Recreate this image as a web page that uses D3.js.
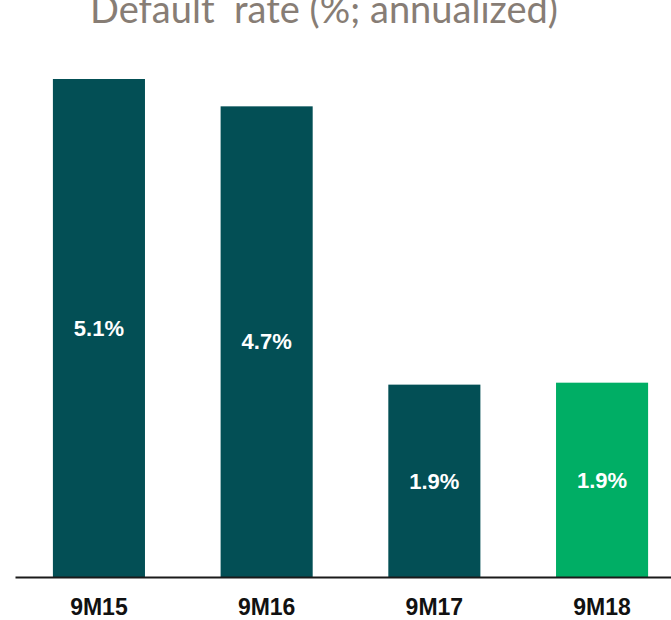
<!DOCTYPE html>
<html>
<head>
<meta charset="utf-8">
<script src="https://cdn.jsdelivr.net/npm/d3@7"></script>
<style>
  body { margin: 0; background: #fff; }
  svg { display: block; }
</style>
</head>
<body>
<script>
// periods on the x axis
const periods = ['9M15', '9M16', '9M17', '9M18'];
// bar heights (% annualized)
const rates = [5.1, 4.82, 1.97, 1.99];
// labels printed inside the bars
const rateLabels = ['5.1%', '4.7%', '1.9%', '1.9%'];
// last period is highlighted
const barColors = ['#034f55', '#034f55', '#034f55', '#00ae65'];

const width = 671;
const height = 620;
const baseline = 577;

const svg = d3
  .select('body')
  .append('svg')
  .attr('width', width)
  .attr('height', height);

// set the ranges
const x = d3
  .scaleBand()
  .domain(periods)
  .range([15, 686])
  .paddingInner(0.451)
  .paddingOuter(0.226);

const y = d3
  .scaleLinear()
  .domain([0, 5.1])
  .range([baseline, 79]);

// title, partly cut by the top edge as in the original
svg
  .append('text')
  .attr('x', 90)
  .attr('y', 23)
  .style('white-space', 'pre')
  .attr('font-family', 'Lato, sans-serif')
  .attr('font-weight', 400)
  .attr('font-size', 38)
  .attr('fill', '#877d75')
  .attr('textLength', 468)
  .attr('lengthAdjust', 'spacingAndGlyphs')
  .text('Default  rate (%; annualized)');

// bars
svg
  .selectAll('rect.bar')
  .data(periods)
  .enter()
  .append('rect')
  .attr('class', 'bar')
  .attr('x', d => x(d))
  .attr('width', x.bandwidth())
  .attr('y', (d, i) => y(rates[i]))
  .attr('height', (d, i) => baseline - y(rates[i]))
  .attr('fill', (d, i) => barColors[i]);

// value labels, centred in each bar
svg
  .selectAll('text.value')
  .data(periods)
  .enter()
  .append('text')
  .attr('class', 'value')
  .attr('x', d => x(d) + x.bandwidth() / 2)
  .attr('y', (d, i) => (y(rates[i]) + baseline) / 2)
  .attr('dy', '0.35em')
  .attr('text-anchor', 'middle')
  .attr('font-family', 'Liberation Sans, Arial, sans-serif')
  .attr('font-weight', 'bold')
  .attr('font-size', 22)
  .attr('fill', '#fff')
  .text((d, i) => rateLabels[i]);

// x axis
const axis = svg
  .append('g')
  .attr('transform', `translate(0,${baseline})`)
  .call(d3.axisBottom(x).tickSize(0).tickPadding(22));

axis.select('.domain')
  .attr('stroke', '#1a1a1a')
  .attr('stroke-width', 2);

axis.selectAll('text')
  .attr('font-family', 'Liberation Sans, Arial, sans-serif')
  .attr('font-weight', 'bold')
  .attr('font-size', 23)
  .attr('fill', '#111');
</script>
</body>
</html>
